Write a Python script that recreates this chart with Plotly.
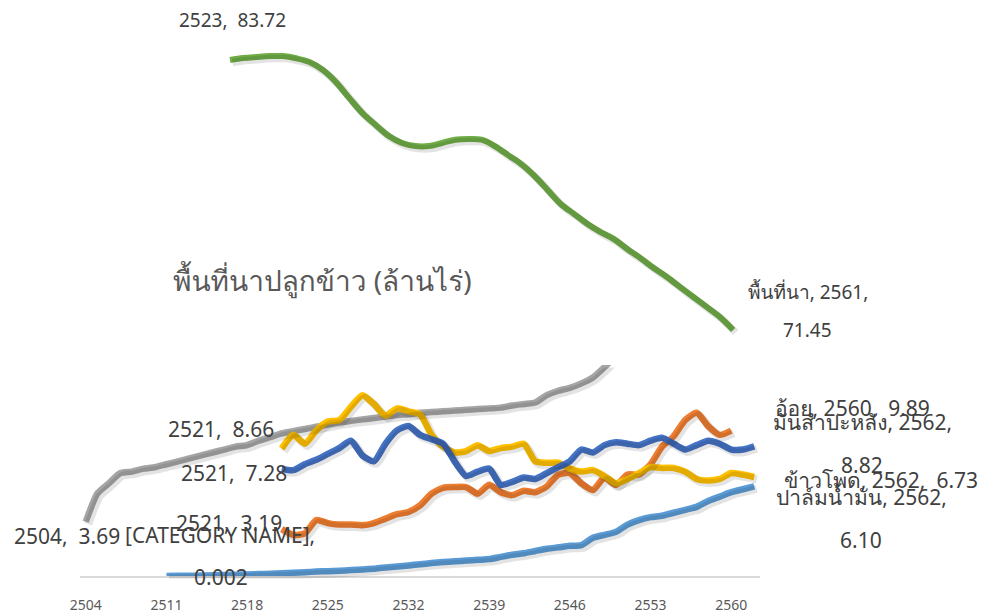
import plotly.graph_objects as go

# ---------------- data ----------------
years_rubber = list(range(2504, 2563))
rubber = [3.69, 5.6, 6.3, 7.0, 7.1, 7.3, 7.4, 7.6, 7.8, 8.0,
          8.2, 8.4, 8.6, 8.8, 8.9, 9.2, 9.45, 9.7, 9.85, 10.0,
          10.15, 10.3, 10.45, 10.55, 10.65, 10.75, 10.85, 10.95, 11.0, 11.1,
          11.15, 11.2, 11.25, 11.3, 11.35, 11.4, 11.45, 11.6, 11.7, 11.8,
          12.3, 12.6, 12.8, 13.1, 13.5, 14.2, 15.0, 16.0, 17.2, 18.5,
          19.8, 21.0, 22.0, 22.6, 23.0, 23.2, 23.3, 23.3, 23.4]

years_maize = list(range(2521, 2563))
maize = [8.66, 9.6, 9.0, 9.9, 10.5, 10.6, 11.5, 12.3, 11.7, 10.9,
         11.4, 11.2, 11.0, 9.6, 8.8, 8.4, 8.5, 8.9, 8.5, 8.7,
         8.8, 9.0, 7.8, 7.7, 7.7, 7.3, 7.1, 7.2, 6.8, 6.3,
         6.6, 7.0, 7.4, 7.35, 7.35, 7.1, 6.6, 6.5, 6.6, 7.0,
         6.9, 6.73]

years_cassava = list(range(2521, 2563))
cassava = [7.28, 7.2, 7.6, 7.9, 8.3, 8.7, 9.2, 8.2, 7.8, 9.0,
           9.9, 10.2, 9.6, 9.3, 9.0, 7.8, 6.8, 7.1, 7.3, 6.2,
           6.4, 6.7, 6.6, 7.0, 7.4, 7.8, 8.6, 8.4, 8.9, 9.1,
           9.0, 8.9, 9.2, 9.4, 9.0, 8.6, 8.9, 9.2, 9.0, 8.6,
           8.6, 8.82]

years_sugarcane = list(range(2521, 2561))
sugarcane = [3.19, 2.8, 2.9, 3.8, 3.6, 3.5, 3.5, 3.45, 3.6, 3.9,
             4.2, 4.35, 4.8, 5.6, 6.0, 6.05, 6.05, 5.6, 6.2, 5.7,
             5.5, 5.8, 5.7, 6.1, 6.9, 7.0, 6.3, 5.85, 6.7, 6.2,
             6.9, 6.9, 7.6, 8.8, 9.5, 10.6, 11.1, 10.2, 9.6, 9.89]

years_palm = list(range(2511, 2563))
palm = [0.002, 0.01, 0.02, 0.03, 0.05, 0.07, 0.09, 0.11, 0.13, 0.16,
        0.19, 0.22, 0.26, 0.30, 0.33, 0.36, 0.40, 0.44, 0.50, 0.58,
        0.65, 0.72, 0.80, 0.88, 0.95, 1.0, 1.05, 1.1, 1.15, 1.3,
        1.45, 1.55, 1.7, 1.85, 1.95, 2.05, 2.1, 2.6, 2.8, 3.0,
        3.5, 3.8, 4.0, 4.1, 4.3, 4.5, 4.7, 5.1, 5.4, 5.7,
        5.9, 6.10]

years_paddy = list(range(2523, 2562))
paddy = [83.72, 83.81, 83.86, 83.9, 83.9, 83.8, 83.63, 83.27, 82.72, 82.0,
         81.31, 80.77, 80.27, 79.95, 79.81, 79.81, 79.95, 80.1, 80.13, 80.1,
         79.81, 79.4, 78.99, 78.45, 77.81, 77.17, 76.72, 76.27, 75.9, 75.58,
         75.13, 74.72, 74.27, 73.86, 73.4, 72.95, 72.5, 72.04, 71.45]

tick_years = [2504, 2511, 2518, 2525, 2532, 2539, 2546, 2553, 2560]
title_text = "พื้นที่นาปลูกข้าว (ล้านไร่)"

# ---------------- styling ----------------
W, H = 987, 615
C_GRAY = "#A5A5A5"
C_ORANGE = "#ED7D31"
C_BLUE = "#4472C4"
C_YELLOW = "#FFC000"
C_LBLUE = "#5B9BD5"
C_GREEN = "#70AD47"
TXT = "#404040"
FONT = "Noto Sans, Tahoma, Loma, Garuda, sans-serif"

# lower chart plot area (pixels)
L_X0, L_X1, L_Y0, L_Y1 = 80, 760, 365, 576
# upper chart plot area (pixels)
U_X0, U_X1, U_Y0, U_Y1 = 80, 760, 0, 365

def px_dom_x(a, b):
    return [a / W, b / W]

def px_dom_y(top, bottom):
    return [(H - bottom) / H, (H - top) / H]

fig = go.Figure()

lower_series = [
    (years_rubber, rubber, C_GRAY, "ยางพารา"),
    (years_palm, palm, C_LBLUE, "ปาล์มน้ำมัน"),
    (years_sugarcane, sugarcane, C_ORANGE, "อ้อย"),
    (years_maize, maize, C_YELLOW, "ข้าวโพด"),
    (years_cassava, cassava, C_BLUE, "มันสำปะหลัง"),
]

# shadows (same data on a slightly offset overlay axis)
for xs, ys, col, name in lower_series:
    fig.add_trace(go.Scatter(x=xs, y=ys, mode="lines", xaxis="x3", yaxis="y3",
                             line=dict(color="rgba(0,0,0,0.11)", width=8,
                                       shape="spline", smoothing=0.6),
                             hoverinfo="skip", showlegend=False))
fig.add_trace(go.Scatter(x=years_paddy, y=paddy, mode="lines", xaxis="x4", yaxis="y4",
                         line=dict(color="rgba(0,0,0,0.11)", width=7.5,
                                   shape="spline", smoothing=1.0),
                         hoverinfo="skip", showlegend=False))

for xs, ys, col, name in lower_series:
    fig.add_trace(go.Scatter(x=xs, y=ys, mode="lines", name=name,
                             line=dict(color=col, width=6.5, shape="spline", smoothing=0.6),
                             showlegend=False))

fig.add_trace(go.Scatter(x=years_paddy, y=paddy, mode="lines", name="พื้นที่นา",
                         xaxis="x2", yaxis="y2",
                         line=dict(color=C_GREEN, width=6, shape="spline", smoothing=1.0),
                         showlegend=False))

# axis ranges derived from the pixel layout
L_YMAX = 14.35
X_RANGE = [2503.5, 2562.5]
U_XRANGE = [2511.67, 2563.03]
U_YRANGE = [69.86, 86.45]

SH = 2.5  # shadow offset in px

fig.update_layout(
    width=W, height=H,
    margin=dict(l=0, r=0, t=0, b=0, autoexpand=False),
    paper_bgcolor="white", plot_bgcolor="rgba(0,0,0,0)",
    font=dict(family=FONT, color=TXT),
    xaxis=dict(domain=px_dom_x(L_X0, L_X1), range=X_RANGE, tickvals=tick_years,
               showgrid=False, zeroline=False, showline=True, linecolor="#D9D9D9",
               linewidth=2, ticks="", ticklabelstandoff=15, automargin=False,
               tickfont=dict(size=14, color="#595959"), anchor="y"),
    yaxis=dict(domain=px_dom_y(L_Y0, L_Y1), range=[0, L_YMAX], visible=False,
               anchor="x"),
    xaxis3=dict(domain=px_dom_x(L_X0 + SH, L_X1 + SH), range=X_RANGE, visible=False,
                anchor="y3"),
    yaxis3=dict(domain=px_dom_y(L_Y0 + SH, L_Y1 + SH), range=[0, L_YMAX], visible=False,
                anchor="x3"),
    xaxis2=dict(domain=px_dom_x(U_X0, U_X1), range=U_XRANGE, visible=False, anchor="y2"),
    yaxis2=dict(domain=px_dom_y(U_Y0, U_Y1), range=U_YRANGE, visible=False, anchor="x2"),
    xaxis4=dict(domain=px_dom_x(U_X0 + SH, U_X1 + SH), range=U_XRANGE, visible=False,
                anchor="y4"),
    yaxis4=dict(domain=px_dom_y(U_Y0 + SH, U_Y1 + SH), range=U_YRANGE, visible=False,
                anchor="x4"),
)

ann = []
def lab(text, x, y, xs, ys, size=21, xref="x", yref="y"):
    ann.append(dict(text=text, x=x, y=y, xref=xref, yref=yref, xshift=xs, yshift=ys,
                    showarrow=False, xanchor="center", yanchor="middle",
                    font=dict(size=size, color=TXT, family=FONT)))

# lower chart labels
lab(f"{years_rubber[0]},  {rubber[0]:.2f}", years_rubber[0], rubber[0], -19, -14)
lab("[CATEGORY NAME],", years_palm[0], palm[0], 54, 41)
lab(f"{palm[0]:.3f}", years_palm[0], palm[0], 55, -1)
lab(f"{years_maize[0]},  {maize[0]:.2f}", years_maize[0], maize[0], -61, 20)
lab(f"{years_cassava[0]},  {cassava[0]:.2f}", years_cassava[0], cassava[0], -48, -4)
lab(f"{years_sugarcane[0]},  {sugarcane[0]:.2f}", years_sugarcane[0], sugarcane[0], -53, 6)
lab(f"อ้อย, {years_sugarcane[-1]},  {sugarcane[-1]:.2f}", years_sugarcane[-1], sugarcane[-1], 121, 23)
lab(f"มันสำปะหลัง, {years_cassava[-1]},", years_cassava[-1], cassava[-1], 108, 24)
lab(f"{cassava[-1]:.2f}", years_cassava[-1], cassava[-1], 108, -19)
lab(f"ข้าวโพด, {years_maize[-1]},  {maize[-1]:.2f}", years_maize[-1], maize[-1], 127, -3)
lab(f"ปาล์มน้ำมัน, {years_palm[-1]},", years_palm[-1], palm[-1], 107, -11)
lab(f"{palm[-1]:.2f}", years_palm[-1], palm[-1], 107, -54)

# upper chart labels
lab(f"{years_paddy[0]},  {paddy[0]:.2f}", years_paddy[0], paddy[0], 2, 40, size=19,
    xref="x2", yref="y2")
lab(f"พื้นที่นา, {years_paddy[-1]},", years_paddy[-1], paddy[-1], 75, 38, size=19,
    xref="x2", yref="y2")
lab(f"{paddy[-1]:.2f}", years_paddy[-1], paddy[-1], 74, 0, size=19, xref="x2", yref="y2")

ann.append(dict(text=title_text, x=322 / W, y=(H - 280) / H, xref="paper", yref="paper",
                showarrow=False, xanchor="center", yanchor="middle",
                font=dict(size=28, color="#595959", family=FONT)))

fig.update_layout(annotations=ann)

fig.write_html("out.html", config={"displayModeBar": False},
               post_script="document.body.style.margin='0';document.body.style.overflow='hidden';")
